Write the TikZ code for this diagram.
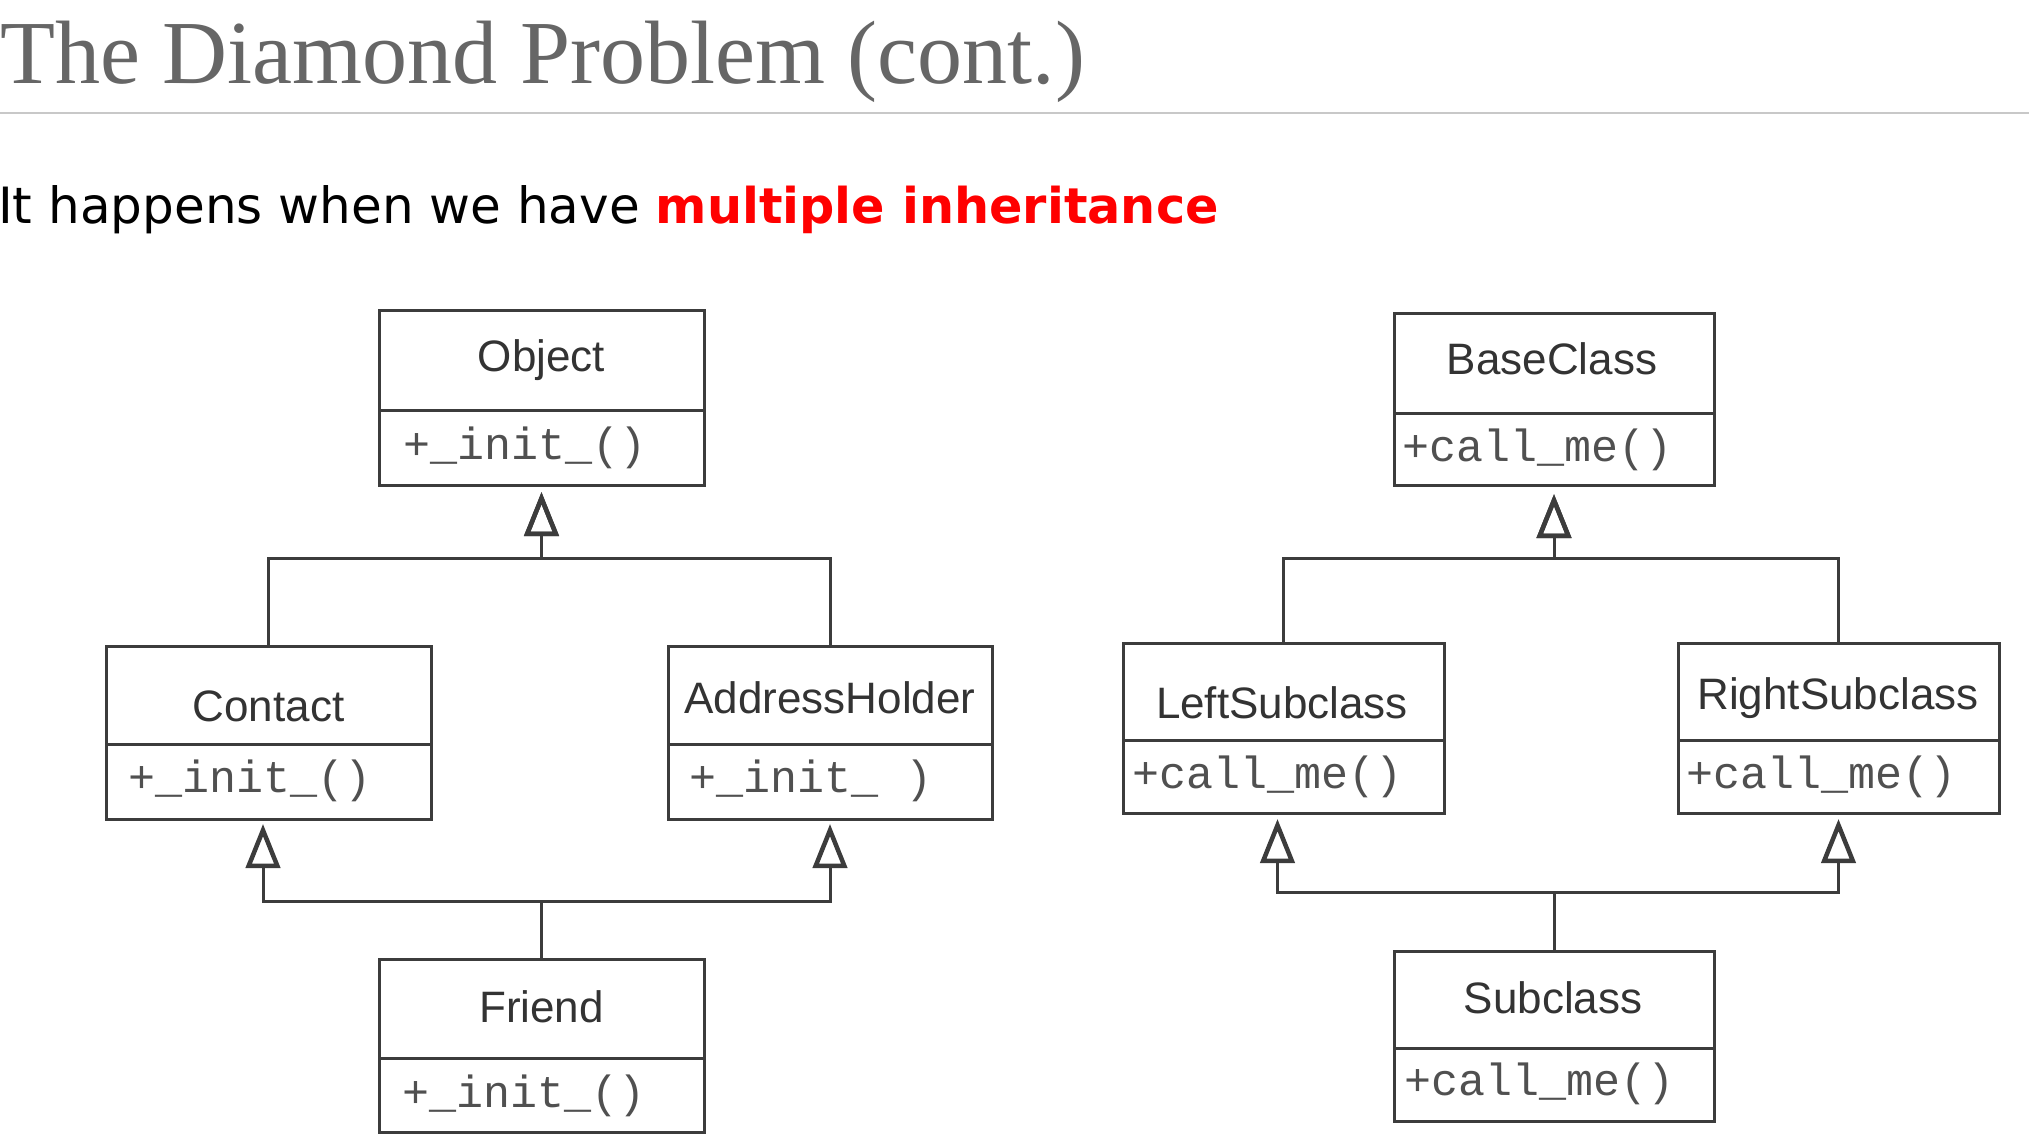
\documentclass[tikz,border=0pt]{standalone}
\usepackage{fontspec}
\setmainfont{Liberation Serif}
\newfontfamily\umlsans{Liberation Sans}
\newfontfamily\umlmono{Liberation Mono}
\newfontfamily\slidesans{DejaVu Sans}
\usetikzlibrary{arrows.meta}
\definecolor{titlegray}{HTML}{666666}
\definecolor{rulegray}{HTML}{C8C8C8}
\definecolor{umlline}{HTML}{3C3C3C}
\definecolor{umltext}{HTML}{333333}
\definecolor{umlmeth}{HTML}{505050}
\definecolor{slidered}{HTML}{FF0000}
\begin{document}
\begin{tikzpicture}[x=1pt,y=-1pt,
  compart/.style={rectangle, draw=umlline, line width=3pt, fill=white, inner sep=0pt, outer sep=0pt},
  clsname/.style={anchor=base, inner sep=0pt, text=umltext, font=\umlsans\fontsize{44}{50}\selectfont},
  clsmeth/.style={anchor=base west, inner sep=0pt, text=umlmeth, font=\umlmono\fontsize{45}{50}\selectfont},
  inherit/.style={draw=umlline, line width=3pt, -{Triangle[open, length=44pt, width=34pt, line width=4.5pt]}}
]
\useasboundingbox (0,0) rectangle (2029,1139);

% title and subtitle
\node[anchor=base west, inner sep=0pt, text=titlegray, font=\fontsize{90}{100}\selectfont] (title) at (0,84) {The Diamond Problem (cont.)};
\draw[rulegray, line width=2.5pt] (0,113) -- (2029,113);
\node[anchor=base west, inner sep=0pt, font=\slidesans\fontsize{50}{60}\selectfont] (subtitle) at (-2,224) {It happens when we have \textcolor{slidered}{\fontsize{49.3}{60}\selectfont\bfseries multiple inheritance}};

% left diagram
\node[compart, minimum width=325pt, minimum height=99pt] (Object-h) at (541.5,360.5) {};
\node[compart, minimum width=325pt, minimum height=75pt] (Object-m) at (541.5,447.5) {};
\node[clsname] (Object-n) at (541.5,372) {Object};
\node[clsmeth] (Object-t) at (403,459) {+\_init\_()};

\node[compart, minimum width=325pt, minimum height=98pt] (Contact-h) at (268.5,695) {};
\node[compart, minimum width=325pt, minimum height=75pt] (Contact-m) at (268.5,781.5) {};
\node[clsname] (Contact-n) at (268.5,721) {Contact};
\node[clsmeth] (Contact-t) at (128,792) {+\_init\_()};

\node[compart, minimum width=324pt, minimum height=98pt] (Addr-h) at (830,695) {};
\node[compart, minimum width=324pt, minimum height=75pt] (Addr-m) at (830,781.5) {};
\node[clsname] (Addr-n) at (830,713) {AddressHolder};
\node[clsmeth] (Addr-t) at (689,792) {+\_init\_ )};

\node[compart, minimum width=325pt, minimum height=99pt] (Friend-h) at (541.5,1008.5) {};
\node[compart, minimum width=325pt, minimum height=74pt] (Friend-m) at (541.5,1095) {};
\node[clsname] (Friend-n) at (541.5,1022) {Friend};
\node[clsmeth] (Friend-t) at (402,1107) {+\_init\_()};

% right diagram
\node[compart, minimum width=320pt, minimum height=99pt] (Base-h) at (1554,363.5) {};
\node[compart, minimum width=320pt, minimum height=72pt] (Base-m) at (1554,449) {};
\node[clsname] (Base-n) at (1552,375) {BaseClass};
\node[clsmeth] (Base-t) at (1402,461) {+call\_me()};

\node[compart, minimum width=321pt, minimum height=97pt] (Left-h) at (1283.5,691.5) {};
\node[compart, minimum width=321pt, minimum height=73pt] (Left-m) at (1283.5,776.5) {};
\node[clsname] (Left-n) at (1282,718) {LeftSubclass};
\node[clsmeth] (Left-t) at (1132,788) {+call\_me()};

\node[compart, minimum width=321pt, minimum height=97pt] (Right-h) at (1838.5,691.5) {};
\node[compart, minimum width=321pt, minimum height=73pt] (Right-m) at (1838.5,776.5) {};
\node[clsname] (Right-n) at (1838,709) {RightSubclass};
\node[clsmeth] (Right-t) at (1686,788) {+call\_me()};

\node[compart, minimum width=320pt, minimum height=97pt] (Sub-h) at (1554,999.5) {};
\node[compart, minimum width=320pt, minimum height=73pt] (Sub-m) at (1554,1084.5) {};
\node[clsname] (Sub-n) at (1553,1013) {Subclass};
\node[clsmeth] (Sub-t) at (1404,1095) {+call\_me()};

% connectors, left
\coordinate (objbus) at ([yshift=-73pt]Object-m.south);
\draw[inherit, shorten >=7pt] (Contact-h.north) |- (objbus) -- (Object-m.south);
\draw[inherit, shorten >=7pt] (Addr-h.north) |- (objbus) -- (Object-m.south);
\coordinate (friendbus) at ([yshift=58pt]Friend-h.north);
\draw[inherit, shorten >=5pt] (Friend-h.north) -- (friendbus) -| ([xshift=-5.5pt]Contact-m.south);
\draw[inherit, shorten >=5pt] (Friend-h.north) -- (friendbus) -| (Addr-m.south);

% connectors, right
\coordinate (basebus) at ([yshift=-73pt]Base-m.south);
\draw[inherit, shorten >=9pt] (Left-h.north) |- (basebus) -- (Base-m.south);
\draw[inherit, shorten >=9pt] (Right-h.north) |- (basebus) -- (Base-m.south);
\coordinate (subbus) at ([yshift=59pt]Sub-h.north);
\draw[inherit, shorten >=6pt] (Sub-h.north) -- (subbus) -| ([xshift=-6pt]Left-m.south);
\draw[inherit, shorten >=6pt] (Sub-h.north) -- (subbus) -| (Right-m.south);
\end{tikzpicture}
\end{document}
